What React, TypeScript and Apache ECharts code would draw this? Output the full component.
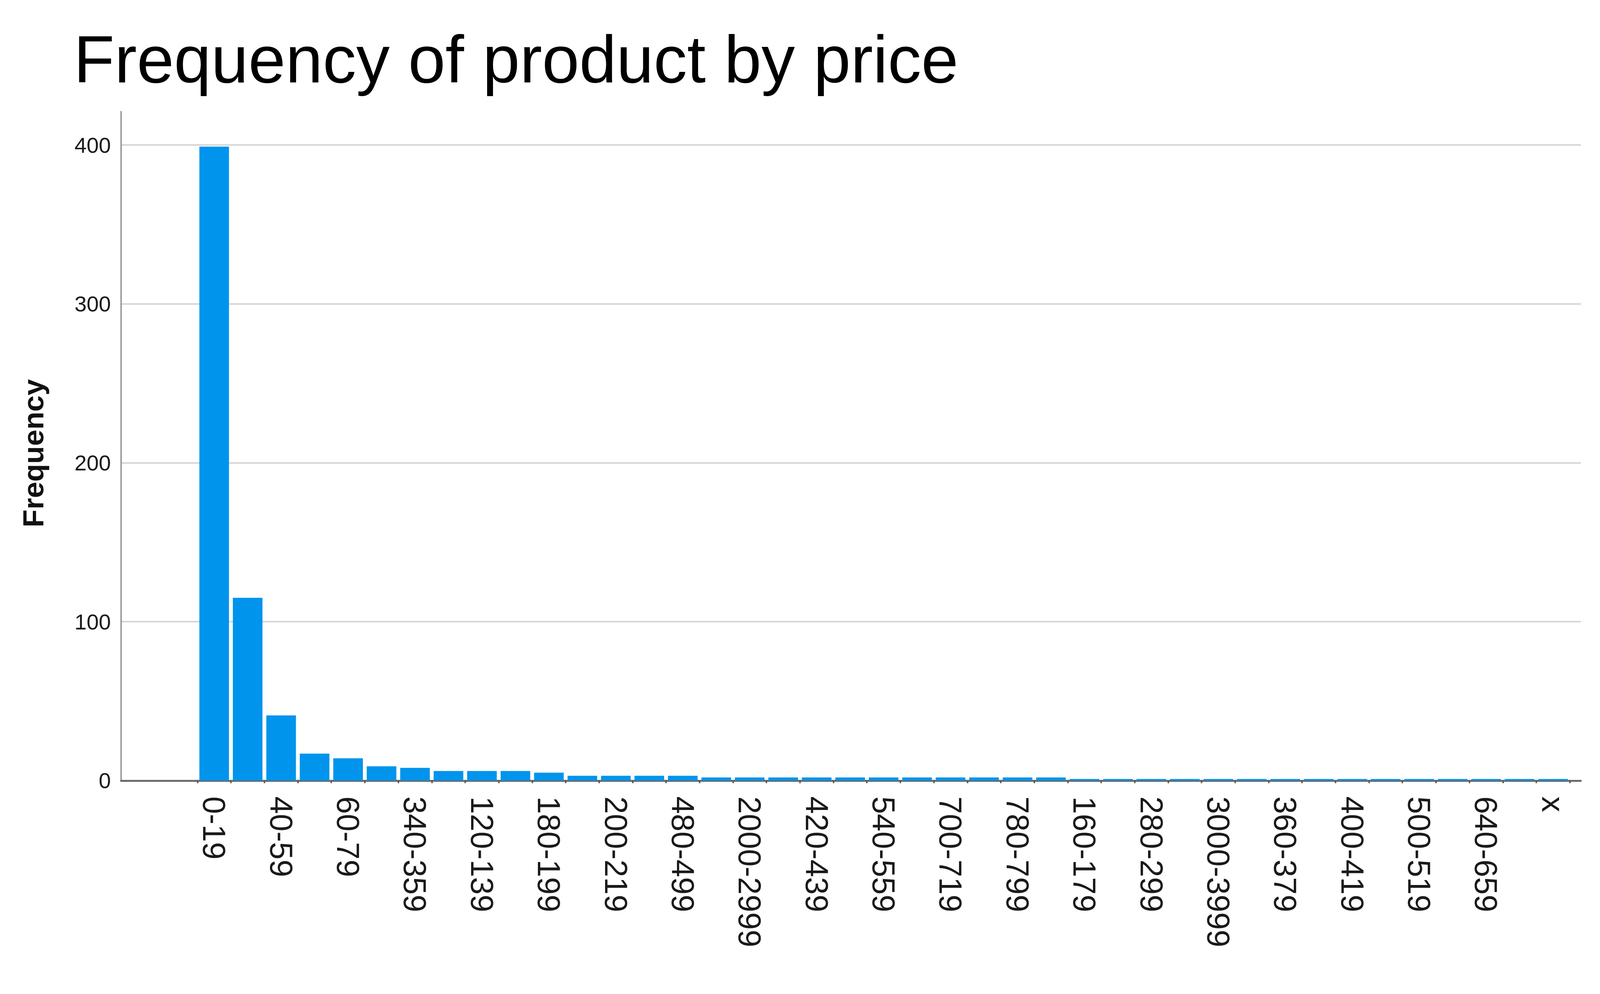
import React, { useEffect, useRef } from "react";
import * as echarts from "echarts";

const titleText = "Frequency of product by price";
const yAxisName = "Frequency";

// Price bins in the order shown (every second label is visible in the chart)
const categories = [
  "0-19", "20-39", "40-59", "80-99", "60-79", "100-119", "340-359", "140-159",
  "120-139", "220-239", "180-199", "240-259", "200-219", "260-279", "480-499",
  "300-319", "2000-2999", "320-339", "420-439", "1000-1999", "540-559", "380-399",
  "700-719", "440-459", "780-799", "460-479", "160-179", "520-539", "280-299",
  "560-579", "3000-3999", "580-599", "360-379", "600-619", "400-419", "620-639",
  "500-519", "660-679", "640-659", "680-699", "x",
];

const frequencies = [
  399, 115, 41, 17, 14, 9, 8, 6, 6, 6, 5, 3, 3, 3, 3,
  2, 2, 2, 2, 2, 2, 2, 2, 2, 2, 2,
  1, 1, 1, 1, 1, 1, 1, 1, 1, 1, 1, 1, 1, 1, 1,
];

const yTicks = [0, 100, 200, 300, 400];

const FONT = "'Liberation Sans', Arial, Helvetica, sans-serif";
const W = 4258;
const H = 2544;

export default function App() {
  const ref = useRef<HTMLDivElement>(null);

  useEffect(() => {
    if (!ref.current) return;
    const chart = echarts.init(ref.current, undefined, { renderer: "svg" });
    const s = (ref.current.clientWidth || W) / W;
    const px = (v: number) => v * s;

    const labelValues = categories.map((_, i) => i).filter((i) => i % 2 === 0);
    const tickValues = categories.map((_, i) => i - 0.5).concat([categories.length - 0.5]);

    chart.setOption({
      animation: false,
      backgroundColor: "#ffffff",
      title: {
        text: titleText,
        left: px(196),
        top: px(69),
        padding: 0,
        textStyle: {
          fontFamily: FONT,
          fontSize: px(178),
          fontWeight: "normal",
          color: "#000000",
        },
      },
      grid: {
        left: px(322),
        right: px(51),
        top: px(297),
        bottom: px(467),
        containLabel: false,
        outerBoundsMode: "none",
      },
      xAxis: {
        type: "value",
        min: -2.784,
        max: categories.length - 1 + 0.83,
        splitLine: { show: false },
        axisLine: {
          show: true,
          onZero: false,
          lineStyle: { color: "#6b6b6b", width: px(5) },
        },
        axisTick: {
          show: true,
          customValues: tickValues,
          length: px(7),
          lineStyle: { color: "#5a5a5a", width: px(4) },
        },
        axisLabel: {
          customValues: labelValues,
          formatter: (v: number) => categories[Math.round(v)] ?? "",
          rotate: -90,
          margin: px(42),
          fontSize: px(84),
          fontFamily: FONT,
          color: "#1a1a1a",
        },
      },
      yAxis: {
        type: "value",
        min: 0,
        max: 421,
        interval: 100,
        name: yAxisName,
        nameLocation: "middle",
        nameRotate: 90,
        nameGap: px(195),
        nameTextStyle: {
          fontFamily: FONT,
          fontSize: px(78),
          fontWeight: "bold",
          color: "#111111",
          padding: [0, px(38), 0, 0],
        },
        axisLine: {
          show: true,
          onZero: false,
          lineStyle: { color: "#9a9a9a", width: px(4) },
        },
        axisTick: { show: false },
        axisLabel: {
          customValues: yTicks,
          formatter: (v: number) => String(v),
          margin: px(27),
          fontSize: px(58),
          fontFamily: FONT,
          color: "#1a1a1a",
        },
        splitLine: {
          show: true,
          showMinLine: false,
          showMaxLine: false,
          lineStyle: { color: "#d6d6d6", width: px(4) },
        },
      },
      series: [
        {
          type: "bar",
          data: frequencies.map((v, i) => [i, v]),
          barWidth: "88.5%",
          itemStyle: { color: "#0094EC" },
          silent: true,
        },
      ],
    });

    return () => chart.dispose();
  }, []);

  return (
    <div
      ref={ref}
      style={{
        position: "fixed",
        left: 0,
        top: 0,
        width: "100vw",
        height: `calc(100vw * ${H} / ${W})`,
      }}
    />
  );
}
